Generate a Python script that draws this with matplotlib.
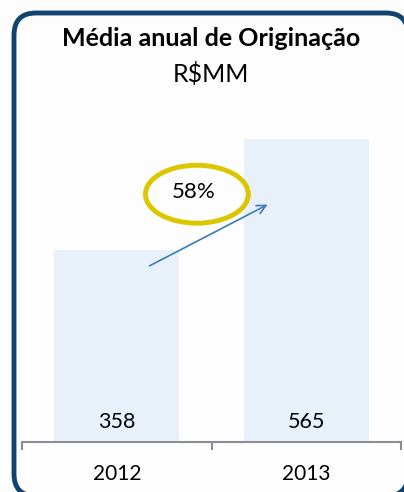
import matplotlib
matplotlib.use("Agg")
import matplotlib.pyplot as plt
from matplotlib.patches import FancyBboxPatch, Ellipse

plt.rcParams["font.family"] = ["Lato", "DejaVu Sans"]

years = ["2012", "2013"]
values = [358, 565]
growth_label = "58%"
title = "Média anual de Originação"
subtitle = "R$MM"

W, H = 404, 492
fig = plt.figure(figsize=(W / 100, H / 100), dpi=100)
fig.patch.set_facecolor("#fdfdfd")

# rounded frame, partly cut off at the right and bottom
# (filled so Agg doesn't clip the curved corners oddly)
frame = FancyBboxPatch((14 / W, -4 / H), 394 / W, 483 / H,
                       boxstyle="round,pad=0,rounding_size=%f" % (22 / W),
                       mutation_aspect=W / H,
                       transform=fig.transFigure, facecolor="#fdfdfd",
                       edgecolor="#0f4470", linewidth=3.5, clip_on=False,
                       zorder=-1)
fig.patches.append(frame)

fig.text(211 / W, 1 - 39 / H, title, ha="center", va="center",
         fontsize=18, fontweight="bold", color="black")
fig.text(211 / W, 1 - 74 / H, subtitle, ha="center", va="center",
         fontsize=18, color="black")

ax = fig.add_axes([22 / W, 50 / H, 379 / W, 342 / H])
ax.set_facecolor("none")
x = list(range(len(years)))
ax.bar(x, values, width=0.66, color="#e8f1fa")
ax.set_xlim(-0.5, 1.5)
ax.set_ylim(0, 637.7)

for xi, v in zip(x, values):
    ax.text(xi, 37, str(v), ha="center", va="center", fontsize=15.5)

for s in ["top", "right", "left"]:
    ax.spines[s].set_visible(False)
ax.spines["bottom"].set_color("#8c8c96")
ax.spines["bottom"].set_linewidth(1.5)
ax.set_yticks([])
ax.set_xticks(x)
ax.set_xticklabels(years, fontsize=15)
ax.tick_params(axis="x", which="major", length=0, pad=16)
ax.set_xticks([-0.5, 0.5, 1.5], minor=True)
ax.tick_params(axis="x", which="minor", length=6, width=1.5, color="#8c8c96")

# growth arrow and highlighted percentage
ax.annotate("", xy=(0.809, 445), xytext=(0.16, 326),
            arrowprops=dict(arrowstyle="->", color="#3a7cb8", lw=1.2,
                            mutation_scale=16))
ax.add_patch(Ellipse((0.423, 462), 0.543, 108, fill=False,
                     edgecolor="#dcc600", linewidth=3.5))
ax.text(0.405, 466, growth_label, ha="center", va="center", fontsize=16)

fig.savefig("out.png", dpi=100)
